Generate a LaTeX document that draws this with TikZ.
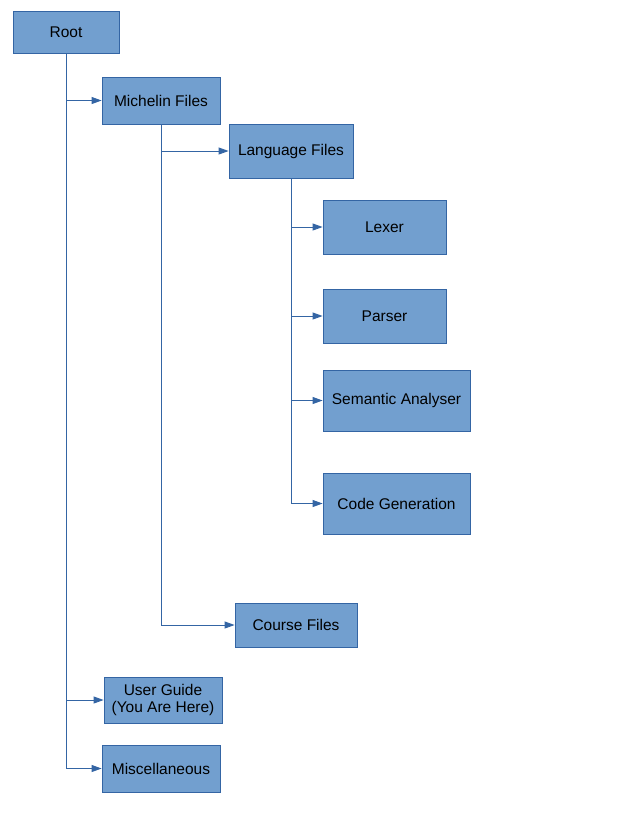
\documentclass[tikz,border=0pt]{standalone}
\usepackage{fontspec}
\setmainfont{Liberation Sans}
\usetikzlibrary{arrows.meta}
\definecolor{boxfill}{HTML}{729FCF}
\definecolor{boxline}{HTML}{3465A4}
\begin{document}
\begin{tikzpicture}[x=1pt,y=-1pt,
  box/.style={draw=boxline,fill=boxfill,line width=0.8pt,inner sep=0pt,
    font=\fontsize{15.5}{17}\selectfont,align=center,anchor=center},
  conn/.style={draw=boxline,line width=0.9pt,-{Triangle[length=10pt,width=7pt]}}]
\useasboundingbox (0,0) rectangle (632,817);
\node[box,minimum width=106pt,minimum height=42pt] (root) at (66,32) {Root};
\node[box,minimum width=118pt,minimum height=47pt] (mich) at (161,100.5) {Michelin Files};
\node[box,minimum width=124pt,minimum height=54pt] (lang) at (291,151) {Language Files};
\node[box,minimum width=123pt,minimum height=54pt] (lexer) at (384.5,227) {Lexer};
\node[box,minimum width=123pt,minimum height=54pt] (parser) at (384.5,316) {Parser};
\node[box,minimum width=147pt,minimum height=61pt] (sem) at (396.5,400.5) {Semantic Analyser};
\node[box,minimum width=147pt,minimum height=61pt] (code) at (396.5,503.5) {Code Generation};
\node[box,minimum width=122pt,minimum height=44pt] (course) at (296,625) {Course Files};
\node[box,minimum width=118pt,minimum height=46pt] (guide) at (163,700) {User Guide\\(You Are Here)};
\node[box,minimum width=118pt,minimum height=47pt] (misc) at (161,768.5) {Miscellaneous};
\draw[conn] (root.south) |- (mich.west);
\draw[conn] (root.south) |- (guide.west);
\draw[conn] (root.south) |- (misc.west);
\draw[conn] (mich.south) |- (lang.west);
\draw[conn] (mich.south) |- (course.west);
\draw[conn] (lang.south) |- (lexer.west);
\draw[conn] (lang.south) |- (parser.west);
\draw[conn] (lang.south) |- (sem.west);
\draw[conn] (lang.south) |- (code.west);
\end{tikzpicture}
\end{document}
